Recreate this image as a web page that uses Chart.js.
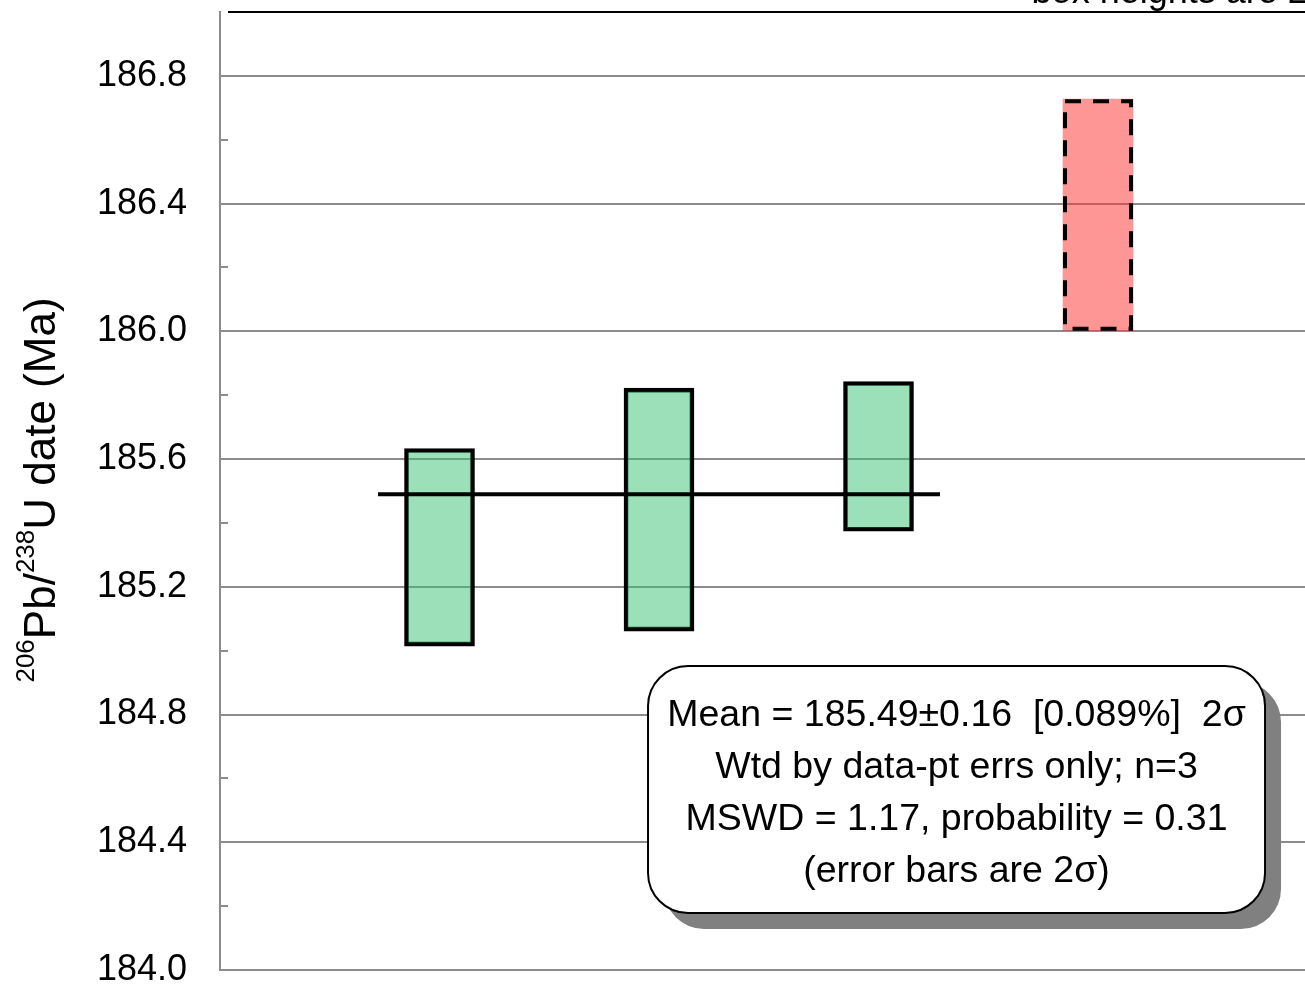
<!DOCTYPE html>
<html>
<head>
<meta charset="utf-8">
<script src="https://cdn.jsdelivr.net/npm/chart.js@4/dist/chart.umd.min.js"></script>
<style>
  body { margin: 0; background: #fff; }
  #wrap { width: 1305px; height: 987px; }
</style>
</head>
<body>
<div id="wrap"><canvas id="dates" width="1305" height="987"></canvas></div>
<script>
// analyses, 2-sigma boxes [low, high] in Ma
var analysisPos = [1, 2, 3, 4];
var boxLow  = [185.014, 185.061, 185.374, 186.002];
var boxHigh = [185.633, 185.822, 185.843, 186.727];
var rejected = [false, false, false, true];

// weighted mean of the accepted analyses
var meanValue = 185.49;
var meanErr = 0.16;
var meanSpan = [0.72, 3.28];

var yMin = 184.0, yMax = 187.0, yStep = 0.2;
var xMin = 0, xMax = 4.943;

var statLines = [
  "Mean = " + meanValue.toFixed(2) + "\u00b1" + meanErr.toFixed(2) + "  [0.089%]  2\u03c3",
  "Wtd by data-pt errs only; n=3",
  "MSWD = 1.17, probability = 0.31",
  "(error bars are 2\u03c3)"
];

var FONT = "'Liberation Sans', Arial, sans-serif";
var gridGray = "#8c8c8c";

var keptData = [], rejData = [];
for (var i = 0; i < analysisPos.length; i++) {
  var pt = { x: analysisPos[i], y: [boxLow[i], boxHigh[i]] };
  if (rejected[i]) rejData.push(pt); else keptData.push(pt);
}

// dashed outline for rejected boxes, minor ticks, frame top, stats box, axis title
var extras = {
  id: 'extras',
  afterDatasetsDraw: function (chart) {
    var c = chart.ctx, area = chart.chartArea, y = chart.scales.y;

    // dashed outline on rejected analyses
    var meta = chart.getDatasetMeta(1);
    c.save();
    c.strokeStyle = '#000';
    c.lineWidth = 4;
    c.setLineDash([16, 12]);
    meta.data.forEach(function (bar) {
      var p = bar.getProps(['x', 'y', 'base', 'width'], true);
      var l = p.x - p.width / 2 + 2, r = p.x + p.width / 2 - 2;
      var t = Math.min(p.y, p.base) + 2, b = Math.max(p.y, p.base) - 2;
      c.strokeRect(l, t, r - l, b - t);
    });
    c.restore();

    // minor tick marks pointing inward
    c.save();
    c.strokeStyle = gridGray;
    c.lineWidth = 2;
    y.ticks.forEach(function (t, idx) {
      if (idx % 2 === 1 && idx < y.ticks.length - 1) {
        var py = Math.round(y.getPixelForValue(t.value));
        c.beginPath();
        c.moveTo(area.left, py);
        c.lineTo(area.left + 8, py);
        c.stroke();
      }
    });
    // black frame top
    c.strokeStyle = '#000';
    c.beginPath();
    c.moveTo(area.left + 8, area.top);
    c.lineTo(area.right, area.top);
    c.stroke();
    c.restore();

    // caption cut off at the top edge
    c.save();
    c.font = '36px ' + FONT;
    c.fillStyle = '#000';
    c.textAlign = 'right';
    c.textBaseline = 'alphabetic';
    c.fillText('box heights are 2\u03c3', 1330, 3);
    c.restore();

    // stats box with drop shadow
    var bx = area.left + (area.right - area.left) * 0.3945;
    var bw = 617, bh = 247;
    var by = area.top + (area.bottom - area.top) * 0.6827;
    c.save();
    c.fillStyle = '#808080';
    c.beginPath();
    c.roundRect(bx + 16, by + 16, bw, bh, 40);
    c.fill();
    c.fillStyle = '#fff';
    c.strokeStyle = '#000';
    c.lineWidth = 2;
    c.beginPath();
    c.roundRect(bx, by, bw, bh, 40);
    c.fill();
    c.stroke();
    c.fillStyle = '#000';
    c.font = '37.5px ' + FONT;
    c.textAlign = 'center';
    c.textBaseline = 'middle';
    statLines.forEach(function (s, k) {
      c.fillText(s, bx + bw / 2, by + 50 + k * 52);
    });
    c.restore();

    // rotated y-axis title with superscript mass numbers
    var parts = [
      { t: '206', sup: true }, { t: 'Pb/', sup: false },
      { t: '238', sup: true }, { t: 'U date (Ma)', sup: false }
    ];
    c.save();
    c.fillStyle = '#000';
    c.textBaseline = 'alphabetic';
    c.textAlign = 'left';
    var total = 0;
    parts.forEach(function (p) {
      c.font = (p.sup ? '26px ' : '44px ') + FONT;
      p.w = c.measureText(p.t).width;
      total += p.w;
    });
    c.translate(55, 490);
    c.rotate(-Math.PI / 2);
    var cx = -total / 2;
    parts.forEach(function (p) {
      c.font = (p.sup ? '26px ' : '44px ') + FONT;
      c.fillText(p.t, cx, p.sup ? -21 : 0);
      cx += p.w;
    });
    c.restore();
  }
};

new Chart(document.getElementById('dates'), {
  type: 'bar',
  data: {
    datasets: [
      {
        label: 'accepted',
        data: keptData,
        backgroundColor: 'rgba(56,193,115,0.5)',
        borderColor: '#000',
        borderWidth: 4,
        borderSkipped: false,
        barThickness: 70,
        grouped: false,
        order: 2
      },
      {
        label: 'rejected',
        data: rejData,
        backgroundColor: 'rgba(255,45,45,0.5)',
        borderWidth: 0,
        barThickness: 70,
        grouped: false,
        order: 2
      },
      {
        type: 'line',
        label: 'mean',
        data: [{ x: meanSpan[0], y: meanValue }, { x: meanSpan[1], y: meanValue }],
        borderColor: '#000',
        borderWidth: 4,
        pointRadius: 0,
        order: 1
      }
    ]
  },
  plugins: [extras],
  options: {
    responsive: false,
    animation: false,
    layout: { padding: { top: 12, bottom: 17, left: 0, right: 0 } },
    plugins: { legend: { display: false }, tooltip: { enabled: false } },
    scales: {
      x: {
        type: 'linear',
        min: xMin,
        max: xMax,
        offset: false,
        display: false
      },
      y: {
        min: yMin,
        max: yMax,
        border: { display: true, color: gridGray, width: 2 },
        grid: {
          drawTicks: false,
          lineWidth: 2,
          color: function (ctx) {
            return (ctx.index % 2 === 0 && ctx.index < 15) ? gridGray : 'rgba(0,0,0,0)';
          }
        },
        ticks: {
          stepSize: yStep,
          padding: 33,
          color: '#000',
          font: { family: FONT, size: 36 },
          callback: function (v, idx) {
            return idx % 2 === 0 && idx < 15 ? Number(v).toFixed(1) : '';
          }
        },
        afterFit: function (scale) {
          scale.width = 220;
          scale.paddingTop = 0;
          scale.paddingBottom = 0;
        }
      }
    }
  }
});
</script>
</body>
</html>
